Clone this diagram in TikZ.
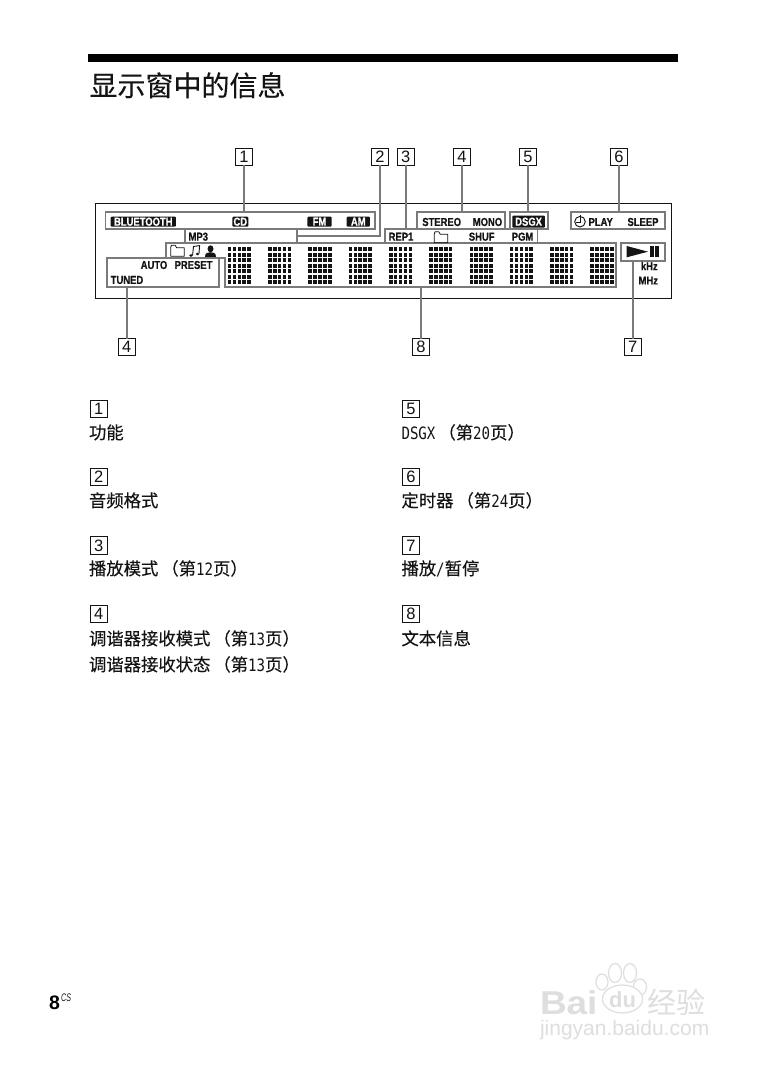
\documentclass[tikz,border=0pt]{standalone}
\usepackage{fontspec}
\usetikzlibrary{positioning}
\setmainfont[FakeBold=0.25]{Noto Sans CJK SC}
\newfontfamily\wmcjk{Noto Sans CJK SC}
\newfontfamily\lcd[FakeStretch=0.82,FakeBold=0.7]{Liberation Sans Bold}
\newfontfamily\numf{Liberation Sans}
\newfontfamily\dgf[FakeStretch=0.83]{DejaVu Sans Mono}
\newfontfamily\csf[FakeStretch=0.65]{Liberation Sans Italic}
\newfontfamily\wm{Liberation Sans Bold}
\newfontfamily\wmwide[FakeStretch=1.12]{Liberation Sans Bold}
\newcommand{\dg}[1]{{\dgf\fontsize{17}{17}\selectfont #1}}
\newcommand{\lp}{\hspace{3pt}（}
\definecolor{lineg}{HTML}{7A7A7A}
\definecolor{ink}{HTML}{141414}
\tikzset{
  x=1pt,y=-1pt,
  gbox/.style={draw=lineg,line width=1.6pt,inner sep=0pt,outer sep=0pt},
  conn/.style={draw=lineg,line width=1.6pt},
  numbox/.style={draw=ink,line width=1.1pt,fill=white,inner sep=0pt,outer sep=0pt,minimum width=17pt,minimum height=17pt,text=ink,font=\numf\fontsize{16.5}{16}\selectfont},
  keybox/.style={numbox,minimum width=17.5pt,minimum height=17.5pt},
  lcdtext/.style={inner sep=0pt,outer sep=0pt,text=ink,font=\lcd\fontsize{11.5}{12}\selectfont},
  inv/.style={fill=ink,rounded corners=1pt,inner sep=0pt,outer sep=0pt,text=white,font=\lcd\fontsize{11.5}{12}\selectfont,minimum height=10pt},
  body/.style={anchor=base west,inner sep=0pt,outer sep=0pt,text=ink,font=\fontsize{17.35}{17}\selectfont},
  wmark/.style={inner sep=0pt,outer sep=0pt,text=black!13},
  wmpaw/.style={draw=black!13,line width=1.2pt,fill=white}
}
\newcommand{\gb}[5]{\node[gbox,minimum width=\dimexpr #4pt-#2pt\relax,minimum height=\dimexpr #5pt-#3pt\relax] (#1) at ({(#2+#4)/2},{(#3+#5)/2}) {};}
\newcommand{\folder}[2]{%
  \draw[ink,line width=0.8pt,line join=round] (#1,#2+2) -- (#1,#2+11) -- (#1+13.5,#2+11) -- (#1+13.5,#2+2.5) -- (#1+6,#2+2.5) -- (#1+4.5,#2) -- (#1+0.8,#2) -- cycle;}
\begin{document}
\begin{tikzpicture}
\useasboundingbox (0,0) rectangle (756,1075);
\fill[white] (0,0) rectangle (756,1075);
% heading
\fill[black] (88,54) rectangle (678,62);
\node[body,font=\fontsize{28}{28}\selectfont] (title) at (89.5,96) {显示窗中的信息};
% display frame
\node[draw=ink,line width=0.9pt,inner sep=0pt,outer sep=0pt,minimum width=576pt,minimum height=94.5pt] (frame) at (383.6,250.8) {};
% number boxes
\node[numbox] (n1) at (244,156.7) {1};
\node[numbox] (n2) at (380,156.7) {2};
\node[numbox] (n3) at (405.7,156.7) {3};
\node[numbox] (n4t) at (462,156.7) {4};
\node[numbox] (n5) at (528,156.7) {5};
\node[numbox] (n6) at (619,156.7) {6};
\node[numbox] (n4b) at (126.7,347) {4};
\node[numbox] (n8) at (421,347) {8};
\node[numbox] (n7) at (632.8,347) {7};
% gray bracket boxes
\gb{b1}{105.3}{212}{375}{229}
\gb{bmp}{185}{229}{296.7}{243.3}
\gb{btuner}{106.7}{257.7}{219}{286.7}
\gb{brep}{385}{229}{537.3}{243.3}
\gb{bst}{416.7}{212}{505}{229}
\gb{bds}{510}{212}{547.7}{229}
\gb{btm}{570.7}{212}{665}{229}
\gb{bpl}{620.7}{243.3}{665}{260.7}
\draw[conn,line join=miter] (166,257.7) -- (166,243.3) -- (615.7,243.3) -- (615.7,286.7) -- (225,286.7) -- (225,257.7) -- (219,257.7);
\coordinate (c8t) at (421,286.7);
% connectors
\draw[conn] (n1.south) -- (n1.south |- b1.north);
\draw[conn] (n2.south) -- (n2.south |- bmp.east) -- (bmp.east);
\draw[conn] (n3.south) -- (n3.south |- brep.north);
\draw[conn] (n4t.south) -- (n4t.south |- bst.north);
\draw[conn] (n5.south) -- (n5.south |- bds.north);
\draw[conn] (n6.south) -- (n6.south |- btm.north);
\draw[conn] (n4b.north) -- (n4b.north |- btuner.south);
\draw[conn] (n8.north) -- (c8t);
\draw[conn] (n7.north) -- (n7.north |- bpl.south);
% dot matrices
\foreach \i in {0,...,9}{
  \foreach \c in {0,...,4}{
    \foreach \r in {0,...,6}{
      \fill[ink] ({227.7+40.3*\i+4.9*\c},{247.3+5.5*\r}) rectangle ++(3.6,4);
    }
  }
}
% inverted labels
\node[inv,minimum width=65.3pt] (l1) at (143.3,221.7) {BLUETOOTH};
\node[inv,minimum width=16pt] (l2) at (240.3,221.7) {CD};
\node[inv,minimum width=24.4pt] (l3) at (319.5,221.7) {FM};
\node[inv,minimum width=23.3pt] (l4) at (358.3,221.7) {AM};
\node[inv,minimum width=32.7pt,minimum height=12pt] (l5) at (528.6,221.7) {DSGX};
% display text
\node[lcdtext] (t1) at (198.3,236.7) {MP3};
\node[lcdtext] (t2) at (154,265) {AUTO};
\node[lcdtext] (t3) at (193.5,265) {PRESET};
\node[lcdtext] (t4) at (127,280) {TUNED};
\node[lcdtext] (t5) at (441.7,222) {STEREO};
\node[lcdtext] (t6) at (487.5,222) {MONO};
\node[lcdtext] (t7) at (600.7,222) {PLAY};
\node[lcdtext] (t8) at (643,222) {SLEEP};
\node[lcdtext] (t9) at (401,236.7) {REP1};
\node[lcdtext] (t10) at (481.7,236.7) {SHUF};
\node[lcdtext] (t11) at (522.5,236.7) {PGM};
\node[lcdtext] (t12) at (649.3,266) {kHz};
\node[lcdtext] (t13) at (648.3,280.5) {MHz};
% icons
\folder{170.7}{245.3}
\folder{434.3}{231.8}
\fill[ink] (191,255.5) ellipse (1.8 and 1.4);
\fill[ink] (197.5,254) ellipse (1.8 and 1.4);
\draw[ink,line width=0.9pt] (192.6,255.3) -- (193.5,246.5) -- (199.6,245.6) -- (199,253.6);
\fill[ink] (210.5,248.8) ellipse (3 and 3.5);
\fill[ink] (205,256.8) .. controls (205,252.8) and (208,252.2) .. (210.5,252.2) .. controls (213,252.2) and (216,252.8) .. (216,256.8) -- cycle;
\draw[ink,line width=0.9pt] (580,221.7) circle (5.3);
\draw[ink,line width=0.9pt] (580,215.5) -- (580,222) -- (576,222);
\fill[ink] (626.7,246) -- (648,251.7) -- (626.7,257.3) -- cycle;
\fill[ink] (649.5,246) rectangle (653.5,257.3);
\fill[ink] (655.2,246) rectangle (659.2,257.3);
% legend, left column
\node[keybox] (k1) at (98.8,408.8) {1};
\node[body] (d1) at (89,439) {功能};
\node[keybox] (k2) at (98.8,477) {2};
\node[body] (d2) at (89,507) {音频格式};
\node[keybox] (k3) at (98.8,545.5) {3};
\node[body] (d3) at (89,575) {播放模式\lp 第\dg{12}页）};
\node[keybox] (k4) at (98.8,614) {4};
\node[body] (d4) at (89,645) {调谐器接收模式\lp 第\dg{13}页）};
\node[body] (d4b) at (89,671) {调谐器接收状态\lp 第\dg{13}页）};
% legend, right column
\node[keybox] (k5) at (411,408.8) {5};
\node[body] (d5) at (401.5,439) {\dg{DSGX}\lp 第\dg{20}页）};
\node[keybox] (k6) at (411,477) {6};
\node[body] (d6) at (401.5,507) {定时器\lp 第\dg{24}页）};
\node[keybox] (k7) at (411,545.5) {7};
\node[body] (d7) at (401.5,575) {播放\dg{/}暂停};
\node[keybox] (k8) at (411,614) {8};
\node[body] (d8) at (401.5,645) {文本信息};
% page number
\node[anchor=base west,inner sep=0pt,text=black,font=\wm\fontsize{19.5}{20}\selectfont] (pg) at (49,1009) {8};
\node[anchor=base west,inner sep=0pt,text=ink,font=\csf\fontsize{11}{11}\selectfont] (pgcs) at (61,1001.5) {CS};
% watermark
\draw[wmpaw] (615,973) ellipse (6.5 and 9.5);
\draw[wmpaw] (630,973) ellipse (6.5 and 9.5);
\draw[wmpaw] (602,982) ellipse (6 and 8);
\draw[wmpaw] (640,987) ellipse (6.5 and 8);
\draw[wmpaw] (622.5,999) ellipse (20 and 14);
\node[wmark,anchor=base west,font=\wmwide\fontsize{33}{33}\selectfont] (wb) at (540,1014.5) {Bai};
\node[wmark,font=\wm\fontsize{22}{22}\selectfont] (wd) at (622.5,1000) {du};
\node[wmark,anchor=base west,font=\wmcjk\fontsize{29}{29}\selectfont] (wc) at (647,1013) {经验};
\node[wmark,anchor=base west,font=\numf\fontsize{21}{22}\selectfont] (wu) at (540,1035.5) {jingyan.baidu.com};
\end{tikzpicture}
\end{document}
